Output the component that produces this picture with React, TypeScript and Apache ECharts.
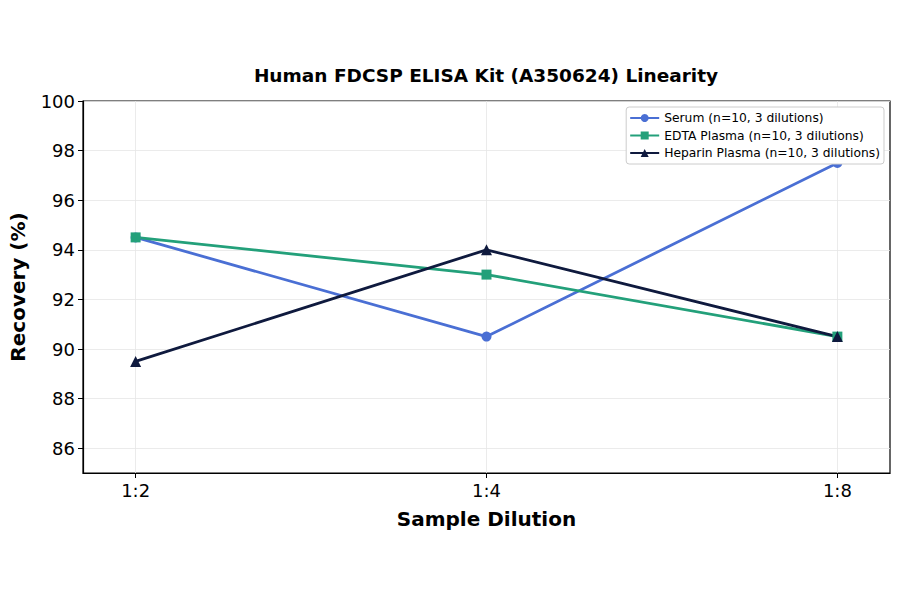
import React, { useEffect, useRef } from "react";
import * as echarts from "echarts";

const dilutions = ["1:2", "1:4", "1:8"];
const serum = [94.5, 90.5, 97.5];
const edtaPlasma = [94.5, 93.0, 90.5];
const heparinPlasma = [89.5, 94.0, 90.5];
const yTicks = [86, 88, 90, 92, 94, 96, 98, 100];

const FONT = "DejaVu Sans";

const toPoints = (values: number[]) => values.map((v, i) => [i, v]);

const App: React.FC = () => {
    const chartRef = useRef<HTMLDivElement>(null);

    useEffect(() => {
        if (!chartRef.current) return;
        const chart = echarts.init(chartRef.current, undefined, { renderer: "svg" });

        const options = {
            animation: false,
            backgroundColor: "#ffffff",
            textStyle: { fontFamily: FONT },
            title: {
                text: "Human FDCSP ELISA Kit (A350624) Linearity",
                left: 481,
                textAlign: "center",
                top: 61,
                textStyle: { fontFamily: FONT, fontSize: 18.5, fontWeight: "bold", color: "#000" },
            },
            legend: {
                orient: "vertical",
                right: 16,
                top: 107,
                padding: [5, 4, 5, 3],
                itemGap: 5.5,
                itemWidth: 29,
                itemHeight: 10,
                backgroundColor: "#ffffff",
                borderColor: "#cccccc",
                borderWidth: 1,
                borderRadius: 3,
                textStyle: { fontFamily: FONT, fontSize: 12.3, color: "#000" },
                data: [
                    "Serum (n=10, 3 dilutions)",
                    "EDTA Plasma (n=10, 3 dilutions)",
                    "Heparin Plasma (n=10, 3 dilutions)",
                ],
            },
            grid: {
                left: 82,
                right: 10,
                top: 101,
                bottom: 121,
                show: true,
                borderColor: "#000",
                borderWidth: 1.2,
            },
            xAxis: {
                type: "value",
                min: -0.15,
                max: 2.15,
                name: "Sample Dilution",
                nameLocation: "middle",
                nameGap: 36,
                nameTextStyle: { fontFamily: FONT, fontSize: 20, fontWeight: "bold", color: "#000" },
                axisLine: { show: true, onZero: false, lineStyle: { color: "#000", width: 1.2 } },
                axisTick: { show: true, length: 5, customValues: [0, 1, 2], lineStyle: { color: "#000" } },
                axisLabel: {
                    customValues: [0, 1, 2],
                    formatter: (v: number) => dilutions[Math.round(v)] ?? "",
                    fontFamily: FONT,
                    fontSize: 18,
                    color: "#000",
                    margin: 8,
                },
                splitLine: { show: true, lineStyle: { color: "#e6e6e6", width: 0.8 } },
            },
            yAxis: {
                type: "value",
                min: 85,
                max: 100,
                name: "Recovery (%)",
                nameLocation: "middle",
                nameGap: 55,
                nameTextStyle: { fontFamily: FONT, fontSize: 20, fontWeight: "bold", color: "#000" },
                axisLine: { show: true, onZero: false, lineStyle: { color: "#000", width: 1.2 } },
                axisTick: { show: true, length: 5, customValues: yTicks, lineStyle: { color: "#000" } },
                axisLabel: {
                    customValues: yTicks,
                    fontFamily: FONT,
                    fontSize: 18,
                    color: "#000",
                    margin: 8,
                },
                splitLine: { show: true, lineStyle: { color: "#e6e6e6", width: 0.8 } },
            },
            series: [
                {
                    name: "Serum (n=10, 3 dilutions)",
                    type: "line",
                    data: toPoints(serum),
                    symbol: "circle",
                    symbolSize: 10,
                    lineStyle: { width: 2.8, color: "#4a6fd4" },
                    itemStyle: { color: "#4a6fd4" },
                },
                {
                    name: "EDTA Plasma (n=10, 3 dilutions)",
                    type: "line",
                    data: toPoints(edtaPlasma),
                    symbol: "rect",
                    symbolSize: 10,
                    lineStyle: { width: 2.8, color: "#23a07a" },
                    itemStyle: { color: "#23a07a" },
                },
                {
                    name: "Heparin Plasma (n=10, 3 dilutions)",
                    type: "line",
                    data: toPoints(heparinPlasma),
                    symbol: "triangle",
                    symbolSize: 11,
                    lineStyle: { width: 2.8, color: "#0f1a3e" },
                    itemStyle: { color: "#0f1a3e" },
                },
            ],
        };

        chart.setOption(options);

        return () => {
            chart.dispose();
        };
    }, []);

    return <div ref={chartRef} style={{ width: "900px", height: "594px", margin: "-8px" }} />;
};

export default App;
